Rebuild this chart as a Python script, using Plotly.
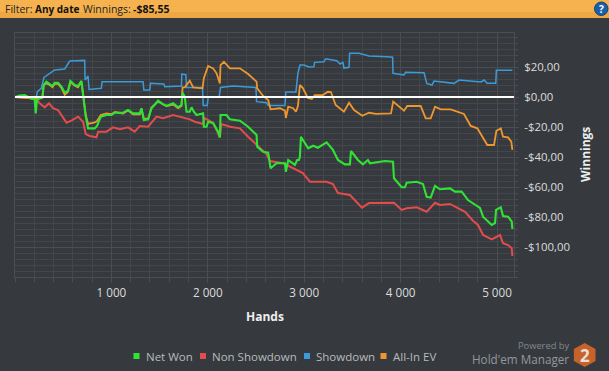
import plotly.graph_objects as go

net_hands = [0,49,101,145,170,204,215,228,249,284,298,326,360,388,412,446,482,516,550,575,620,654,689,713,734,758,827,851,890,949,1001,1035,1121,1173,1225,1294,1312,1336,1381,1416,1484,1536,1572,1640,1692,1727,1738,1761,1779,1813,1831,1855,1883,1951,1959,1987,2003,2055,2107,2125,2132,2194,2229,2333,2418,2506,2512,2574,2626,2651,2713,2800,2810,2834,2903,2927,2945,2955,2966,3041,3093,3142,3232,3298,3350,3422,3474,3485,3557,3609,3661,3682,3838,3921,3931,4011,4045,4063,4167,4232,4270,4312,4357,4408,4512,4564,4633,4699,4771,4823,4855,4945,4979,4990,5039,5062,5114,5153,5159]
net_vals = [0,0.9,1.3,-0.2,-1.1,-1.5,-10.9,-2,-1.1,-0.5,8,10.2,8.7,7.3,9.5,9.5,6.9,2.9,4.2,10.7,8,7.3,10.7,-0.9,-13.1,-20.9,-20.9,-19.3,-13.1,-12,-12,-10.5,-10.5,-8.7,-10.9,-10.9,-7.5,-15.3,-14.9,-7.5,-2.5,-4.7,-6,-4.2,-6.9,-5.3,2.9,0.2,-9.8,-9.8,-6.9,-9.8,-12,-10.9,-19.8,-19.8,-16.5,-17.5,-23.1,-26.9,-12,-12,-14.9,-15.8,-19.8,-25.3,-33.1,-36.5,-37.1,-47.5,-44.2,-44.2,-49.8,-42,-45.3,-42,-42,-39.8,-26.5,-34.2,-32.5,-33.8,-30.2,-35.3,-42,-44.9,-44.9,-36,-42,-44.9,-42,-44.2,-42.7,-43.1,-54.2,-60.2,-60.2,-57.1,-56.5,-58,-66.5,-67.1,-59.3,-61.5,-60.9,-63.1,-63.1,-68.7,-72,-74,-79.8,-85.3,-84,-75.3,-73.5,-79.3,-79.8,-83.1,-88]

nsd_hands = [0,222,256,308,353,394,446,534,585,654,706,734,776,845,862,949,1017,1087,1173,1242,1294,1381,1468,1536,1640,1813,1865,1951,1969,2055,2125,2142,2229,2333,2418,2506,2609,2644,2782,2886,2986,3059,3142,3232,3298,3350,3474,3599,3672,3786,3931,4011,4063,4167,4270,4357,4408,4512,4616,4668,4751,4803,4855,4945,5031,5062,5114,5153,5159]
nsd_vals = [0,-1.1,-4.2,-6.9,-4.2,-7.5,-8.7,-17.1,-15.8,-13.1,-16.5,-24.7,-26,-26.9,-23.1,-23.1,-20.2,-21.5,-20.2,-23.1,-19.3,-19.8,-13.1,-14.2,-12,-14.9,-16.5,-18,-14.2,-17.1,-26.9,-18,-19.8,-20.9,-26.5,-32,-38,-42.7,-44.2,-47.5,-50.7,-56.5,-56.7,-56.5,-58,-64,-65.3,-73.8,-70.7,-70.5,-70.5,-75.3,-74.2,-73.5,-76.5,-70.5,-72,-71.3,-74.9,-76.5,-82.5,-85.3,-92,-94.9,-92,-97.5,-98.7,-100.9,-106]

sd_hands = [0,222,232,273,301,412,516,568,723,727,758,768,896,903,1329,1336,1398,1405,1544,1554,1727,1730,1772,1779,1945,1952,1994,2004,2118,2132,2263,2499,2506,2610,2627,2800,2810,2914,2935,2956,2997,3049,3100,3108,3204,3222,3339,3371,3402,3412,3465,3471,3568,3672,3859,3917,3921,4035,4052,4243,4271,4326,4346,4554,4606,4834,4866,4897,4987,4993,5159]
sd_vals = [0,0,3.6,5.8,13.1,18,18.7,24,24.4,11.3,14,5,5.8,10.2,10.2,4.7,4.7,9.1,8.7,6.9,7.3,15.3,14.9,6.4,6.4,-5.6,-5.6,-0.2,0.2,6.4,7.3,6.4,-3.1,-3.8,-5.6,-5.6,3.3,3.3,16,21.3,21.3,20,20.2,23.1,23.5,25.5,24.2,22,23.1,19.3,19.8,29.1,29.1,27.3,26.9,26.5,15.8,14.7,16.5,16.2,9.1,8,10.6,9.1,11.3,10,11.3,9.1,9.1,17.8,17.8]

ev_hands = [0,204,215,228,284,298,326,360,388,412,446,482,516,550,575,620,654,689,713,734,758,827,851,890,949,1001,1035,1121,1173,1225,1294,1312,1336,1381,1416,1484,1536,1572,1640,1692,1727,1738,1761,1779,1813,1848,1917,1945,1959,2003,2055,2091,2125,2132,2167,2229,2333,2418,2506,2512,2574,2626,2651,2748,2800,2810,2834,2886,2914,2935,2955,2986,3038,3079,3110,3193,3245,3277,3326,3412,3465,3517,3602,3672,3744,3900,3923,4035,4069,4208,4260,4312,4357,4416,4519,4657,4727,4796,4899,4969,4993,5039,5062,5114,5148,5159]
ev_vals = [0,-0.5,-1,-0.5,-0.3,8,9,8,6.5,8.7,8.7,6,1.5,3.5,10,7.5,6.5,10,-1,-12,-18,-17,-16,-12,-11,-11.5,-10,-11,-9,-11.5,-11.5,-8,-14.5,-14.5,-7,-3,-5,-6,-5,-7.5,-6,6.4,6.4,8,10.9,6.4,5.8,5.8,12.5,20.7,19.1,15.8,9.1,21.3,23.5,19.1,19.1,15.3,10.2,5.8,0.7,-2,-8.2,-7.5,-9.1,-14,-6.5,-7.5,-9.8,-6,8,6,-0.7,-1.3,1.3,1.3,3.5,3.3,-5.3,-9.8,-3.8,-8.7,-12.5,-10.5,-11.3,-10.9,-3.1,-9.1,-6,-6,-14.2,-14.2,-6.5,-8.2,-8.2,-11.3,-19.3,-20.9,-32,-32,-22.5,-20.9,-26.5,-26.9,-29.8,-35.3]

x_tick_vals = [1000,2000,3000,4000,5000]
x_tick_text = ["1 000","2 000","3 000","4 000","5 000"]
y_tick_vals = [20,0,-20,-40,-60,-80,-100]
y_tick_text = ["$20,00","$0,00","-$20,00","-$40,00","-$60,00","-$80,00","-$100,00"]
zero_x = [0,5176]
zero_y = [0,0]

BG = "#363a3e"
GRID = "#4a4e52"
MINOR = "#43474b"
GREEN = "#2fe336"
RED = "#e34c4c"
BLUE = "#3a9bd8"
ORANGE = "#f0962e"
TXT = "#dcdcdc"
FONT = "Open Sans"

W, H = 609, 371
L, R, T, B = 15, 95, 33, 94
pw, ph = W - L - R, H - T - B
def X(px): return (px - L) / pw
def Y(py): return 1 - (py - T) / ph

fig = go.Figure()
for name, xs, ys, col, w in [
    ("Non Showdown", nsd_hands, nsd_vals, RED, 2),
    ("Showdown", sd_hands, sd_vals, BLUE, 1.5),
    ("All-In EV", ev_hands, ev_vals, ORANGE, 1.8),
    ("Net Won", net_hands, net_vals, GREEN, 2.1),
]:
    fig.add_trace(go.Scatter(x=xs, y=ys, mode="lines", name=name, showlegend=False,
                             line=dict(color=col, width=w, shape="linear")))
fig.add_trace(go.Scatter(x=zero_x, y=zero_y, mode="lines", showlegend=False,
                         line=dict(color="#ffffff", width=2.2)))

shapes, ann = [], []
def text(px, py, s, size=12, color=TXT, anchor="left", bold=False, angle=0):
    ann.append(dict(xref="paper", yref="paper", x=X(px), y=Y(py), text=f"<b>{s}</b>" if bold else s,
                    showarrow=False, xanchor=anchor, yanchor="middle", textangle=angle, borderpad=0,
                    font=dict(family=FONT, size=size, color=color)))
def rect(x0, y0, x1, y1, color):
    shapes.append(dict(type="rect", xref="paper", yref="paper", x0=X(x0), x1=X(x1), y0=Y(y0), y1=Y(y1),
                       fillcolor=color, line_width=0, layer="above"))

# header bar
rect(0, 0, W, 12, "#f5b24e")
rect(0, 12, W, 18, "#eda744")
text(4, 9, "Filter:", 10.5, "#222222")
text(33.5, 9, "Any date", 10, "#111111", bold=True)
text(81.5, 9, "Winnings:", 10.5, "#222222")
text(131.5, 9, "-$85,55", 10.5, "#111111", bold=True)
shapes.append(dict(type="circle", xref="paper", yref="paper", x0=X(594.5), x1=X(608), y0=Y(15.5), y1=Y(2),
                   fillcolor="#1c5fa8", line=dict(color="#0f3f78", width=1), layer="above"))
text(601.3, 8.7, "?", 10, "#ffffff", anchor="center", bold=True)

# axis titles
text(265, 316, "Hands", 12, "#eeeeee", anchor="center", bold=True)
text(585, 155, "Winnings", 12, "#eeeeee", anchor="center", bold=True, angle=-90)

# legend
for sx, tx, name, col in [(136.5, 144.5, "Net Won", GREEN), (203, 211, "Non Showdown", RED),
                          (307, 314.5, "Showdown", BLUE), (383.5, 391.5, "All-In EV", ORANGE)]:
    rect(sx - 3, 353, sx + 3, 359, col)
    text(tx, 356, name, 11.5, "#b8babc")

# logo
text(569.5, 345.5, "Powered by", 9.3, "#85888b", anchor="right")
text(569.5, 359, "Hold'em Manager", 11.7, "#95989b", anchor="right")
cx, cy, rx, ry = 584.7, 355, 10.8, 12
pts = [(cx, cy - ry), (cx + rx, cy - ry / 2), (cx + rx, cy + ry / 2), (cx, cy + ry), (cx - rx, cy + ry / 2), (cx - rx, cy - ry / 2)]
path = "M " + " L ".join(f"{X(a):.5f} {Y(b):.5f}" for a, b in pts) + " Z"
shapes.append(dict(type="path", xref="paper", yref="paper", path=path, fillcolor="#c8622b", line_width=0, layer="above"))
text(584.7, 355, "2", 17, "#e8e0d8", anchor="center", bold=True)

fig.update_layout(
    width=W, height=H, autosize=False,
    margin=dict(l=L, r=R, t=T, b=B, pad=0),
    paper_bgcolor=BG, plot_bgcolor=BG,
    font=dict(family=FONT, size=12, color=TXT),
    shapes=shapes, annotations=ann, showlegend=False,
    xaxis=dict(range=[0, 5176], tickmode="array", tickvals=x_tick_vals, ticktext=x_tick_text,
               showgrid=True, gridcolor=GRID, gridwidth=1, zeroline=False,
               ticks="outside", ticklen=5, tickcolor=GRID, tickfont=dict(size=11.7, color=TXT),
               showline=True, linecolor=GRID, linewidth=1, mirror=True,
               minor=dict(tickmode="linear", tick0=0, dtick=200, showgrid=True, gridcolor=MINOR, gridwidth=1,
                          ticks="outside", ticklen=4, tickcolor=GRID)),
    yaxis=dict(range=[-120, 42.67], side="right", tickmode="array", tickvals=y_tick_vals, ticktext=y_tick_text,
               showgrid=True, gridcolor=GRID, gridwidth=1, zeroline=False,
               ticks="outside", ticklen=4, tickcolor=GRID, tickfont=dict(size=11.4, color=TXT),
               ticklabelstandoff=3,
               showline=True, linecolor=GRID, linewidth=1, mirror=True,
               minor=dict(tickmode="linear", tick0=0, dtick=4, showgrid=True, gridcolor=MINOR, gridwidth=1,
                          ticks="outside", ticklen=3, tickcolor=GRID)),
)
fig.write_html("out.html", config=dict(displayModeBar=False),
               post_script="document.body.style.margin='0';document.body.style.overflow='hidden';")
